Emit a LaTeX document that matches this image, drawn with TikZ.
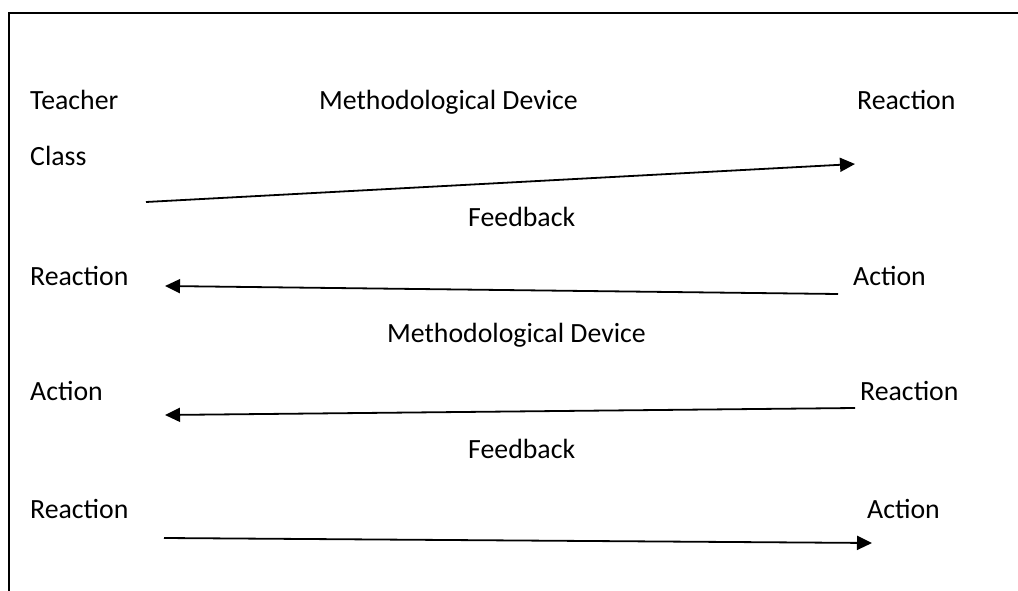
\documentclass[tikz,border=0pt]{standalone}
\usepackage{fontspec}
\setmainfont{Carlito}
\usetikzlibrary{arrows.meta}

\begin{document}
\begin{tikzpicture}[x=1pt,y=-1pt,
        lbl/.style={anchor=base west,inner sep=0pt,font=\fontsize{27.8}{33}\selectfont},
        flow/.style={line width=1.8pt,-{Triangle[length=15pt,width=14pt]}}]
        \useasboundingbox (0,0) rectangle (1018,591);
        % frame (top and left only)
        \draw[line width=1.8pt] (1018,13) -- (9,13) -- (9,591);

        \node[lbl] (teacher) at (30,110) {Teacher};
        \node[lbl] (dev1) at (319,110) {Methodological Device};
        \node[lbl] (reac1) at (857,110) {Reaction};
        \node[lbl] (class) at (30,166) {Class};

        \node[lbl] (fb1) at (468,226) {Feedback};
        \node[lbl] (reac2) at (30,285) {Reaction};
        \node[lbl] (act2) at (853,285) {Action};

        \node[lbl] (dev2) at (387,342) {Methodological Device};
        \node[lbl] (act3) at (30,400) {Action};
        \node[lbl] (reac3) at (860,400) {Reaction};

        \node[lbl] (fb2) at (468,458) {Feedback};
        \node[lbl] (reac4) at (30,518) {Reaction};
        \node[lbl] (act4) at (867,518) {Action};

        \coordinate (a1s) at (146,202);
        \coordinate (a1e) at (855,164);
        \coordinate (a2s) at (838,294);
        \coordinate (a2e) at (165,286);
        \coordinate (a3s) at (855,408);
        \coordinate (a3e) at (165,415);
        \coordinate (a4s) at (164,538);
        \coordinate (a4e) at (872,543);

        \draw[flow] (a1s) -- (a1e);
        \draw[flow] (a2s) -- (a2e);
        \draw[flow] (a3s) -- (a3e);
        \draw[flow] (a4s) -- (a4e);
\end{tikzpicture}
\end{document}
